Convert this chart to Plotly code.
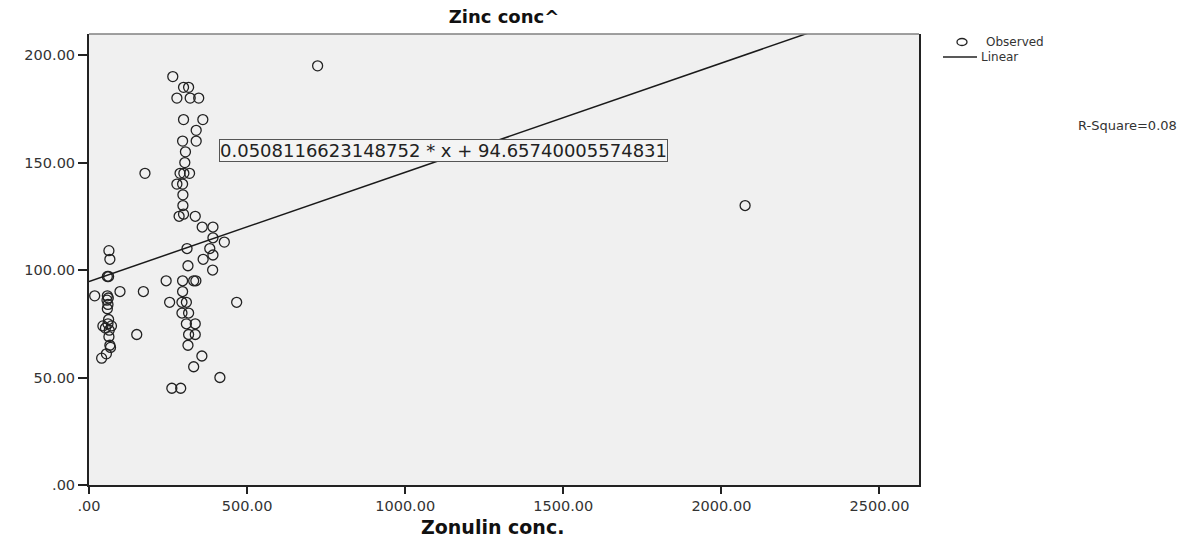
import plotly.graph_objects as go

# ---- data ----
zonulin = [63, 66, 58, 62, 18, 58, 61, 57, 98, 172, 60, 58, 62, 60, 44, 71, 52, 64, 63, 151, 66, 68, 55, 40,
           723, 265, 299, 315, 278, 320, 347, 299, 360, 339, 296, 339, 305, 303, 288, 300, 318, 177,
           278, 296, 297, 297, 285, 299, 336, 358, 392, 392, 428, 310, 382, 392, 361, 313, 391,
           244, 296, 331, 338, 296, 255, 294, 308, 467, 294, 315, 308, 336, 315, 336, 313, 357, 331,
           414, 262, 290, 2075]
zinc = [109, 105, 97, 97, 88, 88, 87, 86, 90, 90, 84, 82, 77, 75, 74, 74, 73, 72, 69, 70, 65, 64, 61, 59,
        195, 190, 185, 185, 180, 180, 180, 170, 170, 165, 160, 160, 155, 150, 145, 145, 145, 145,
        140, 140, 135, 130, 125, 126, 125, 120, 120, 115, 113, 110, 110, 107, 105, 102, 100,
        95, 95, 95, 95, 90, 85, 85, 85, 85, 80, 80, 75, 75, 70, 70, 65, 60, 55,
        50, 45, 45, 130]

slope = 0.0508116623148752
intercept = 94.65740005574831
r_square = 0.08

x_ticks = [0, 500, 1000, 1500, 2000, 2500]
x_ticktext = [".00", "500.00", "1000.00", "1500.00", "2000.00", "2500.00"]
y_ticks = [0, 50, 100, 150, 200]
y_ticktext = [".00", "50.00", "100.00", "150.00", "200.00"]

x_range = [0, 2625]
y_range = [0, 209.8]

FONT = "DejaVu Sans"

# plot-area geometry in pixels (used to place the outside legend texts)
L, R, T, B = 89, 919, 34, 485
W, H = R - L, B - T


def px(xp):
    return (xp - L) / W


def py(yp):
    return (B - yp) / H


fig = go.Figure()

fig.add_trace(go.Scatter(
    x=zonulin, y=zinc, mode="markers", name="Observed",
    marker=dict(symbol="circle-open", size=10, color="#222222", line=dict(width=1.3, color="#222222")),
    showlegend=False, cliponaxis=True,
))

line_x = [x_range[0], x_range[1]]
line_y = [slope * v + intercept for v in line_x]
fig.add_trace(go.Scatter(
    x=line_x, y=line_y, mode="lines", name="Linear",
    line=dict(color="#1a1a1a", width=1.5), showlegend=False,
))

fig.update_layout(
    width=1185, height=542, autosize=False,
    margin=dict(l=L, r=1185 - R, t=T, b=542 - B),
    paper_bgcolor="white", plot_bgcolor="#f0f0f0",
    font=dict(family=FONT, size=13, color="#222222"),
    title=dict(text="<b>Zinc conc^</b>", x=0.5, xref="paper", xanchor="center",
               y=1 - 17 / 542, yref="container", yanchor="middle",
               font=dict(family=FONT, size=18, color="#111111")),
    xaxis=dict(range=x_range, tickvals=x_ticks, ticktext=x_ticktext,
               ticks="outside", ticklen=7, tickwidth=2, tickcolor="#222222",
               showline=True, linecolor="#222222", linewidth=2, mirror=False,
               showgrid=False, zeroline=False,
               tickfont=dict(family=FONT, size=14.5, color="#333333")),
    yaxis=dict(range=y_range, tickvals=y_ticks, ticktext=y_ticktext,
               ticks="outside", ticklen=9, tickwidth=2, tickcolor="#222222",
               showline=True, linecolor="#222222", linewidth=2, mirror=True,
               showgrid=False, zeroline=False,
               tickfont=dict(family=FONT, size=14.5, color="#333333")),
)

# x-axis title
fig.add_annotation(x=px(492), y=py(527), xref="paper", yref="paper",
                   xanchor="center", yanchor="middle", text="<b>Zonulin conc.</b>",
                   showarrow=False, font=dict(family=FONT, size=19, color="#111111"))

# top border of the plot frame (grey)
fig.add_shape(type="line", xref="paper", yref="paper", x0=0, x1=1, y0=1, y1=1,
              line=dict(color="#808080", width=1.5))

# equation label
fig.add_annotation(
    x=412, y=155.6, xref="x", yref="y", xanchor="left", yanchor="middle",
    text=f"{slope!r} * x + {intercept!r}", showarrow=False,
    font=dict(family=FONT, size=18, color="#222222"),
    bgcolor="#f4f4f4", bordercolor="#555555", borderwidth=1, borderpad=0,
)

# legend (outside plot)
fig.add_shape(type="circle", xref="paper", yref="paper",
              xsizemode="pixel", ysizemode="pixel",
              xanchor=px(962), yanchor=py(42),
              x0=-5, x1=5, y0=-3.5, y1=3.5,
              line=dict(color="#222222", width=1.3))
fig.add_annotation(x=px(984), y=py(42), xref="paper", yref="paper",
                   xanchor="left", yanchor="middle", text="Observed", showarrow=False,
                   font=dict(family=FONT, size=12, color="#333333"))
fig.add_shape(type="line", xref="paper", yref="paper",
              x0=px(943), x1=px(977), y0=py(57), y1=py(57),
              line=dict(color="#222222", width=1.3))
fig.add_annotation(x=px(979), y=py(57), xref="paper", yref="paper",
                   xanchor="left", yanchor="middle", text="Linear", showarrow=False,
                   font=dict(family=FONT, size=12, color="#333333"))
fig.add_annotation(x=px(1076), y=py(125), xref="paper", yref="paper",
                   xanchor="left", yanchor="middle", text=f"R-Square={r_square:.2f}", showarrow=False,
                   font=dict(family=FONT, size=13, color="#333333"))

fig.write_html("out.html")
